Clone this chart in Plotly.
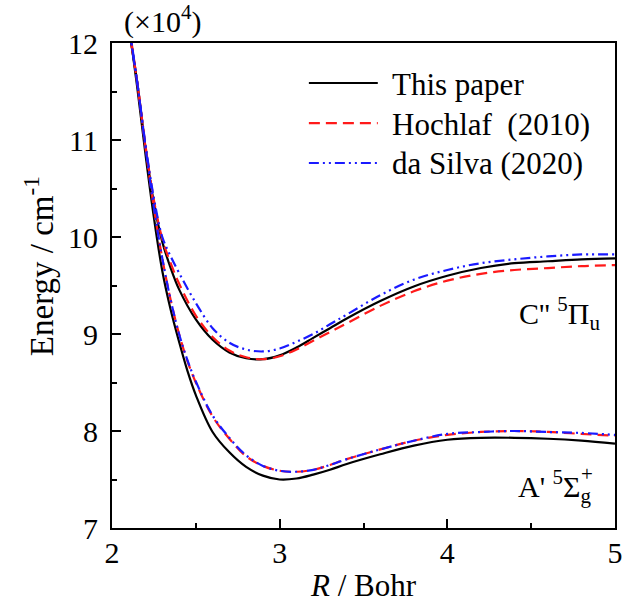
import plotly.graph_objects as go

# ---------------- data (energy in 10^4 cm^-1, R in Bohr) ----------------
R_C = [2.10, 2.15, 2.20, 2.25, 2.30, 2.35, 2.40, 2.50, 2.60, 2.70, 2.80, 2.90, 3.00,
       3.10, 3.20, 3.30, 3.40, 3.60, 3.80, 4.00, 4.20, 4.40, 4.60, 4.80, 5.00]
C_this = [12.15, 11.60, 10.92, 10.35, 9.95, 9.68, 9.46, 9.15, 8.94, 8.81, 8.75, 8.74, 8.78,
          8.86, 8.96, 9.06, 9.16, 9.34, 9.49, 9.60, 9.68, 9.73, 9.75, 9.77, 9.78]
C_hoch = [12.15, 11.60, 10.94, 10.38, 9.98, 9.73, 9.52, 9.19, 8.97, 8.83, 8.76, 8.74, 8.77,
          8.84, 8.93, 9.02, 9.11, 9.29, 9.44, 9.55, 9.62, 9.66, 9.68, 9.70, 9.71]
C_silva = [12.15, 11.60, 10.95, 10.40, 10.00, 9.80, 9.63, 9.32, 9.06, 8.91, 8.84, 8.82, 8.85,
           8.92, 9.00, 9.10, 9.20, 9.40, 9.56, 9.66, 9.73, 9.77, 9.80, 9.82, 9.82]

R_A = [2.10, 2.15, 2.20, 2.25, 2.30, 2.35, 2.40, 2.45, 2.50, 2.60, 2.70, 2.80, 2.90, 3.00,
       3.10, 3.20, 3.30, 3.40, 3.60, 3.80, 4.00, 4.20, 4.40, 4.60, 4.80, 5.00]
A_this = [12.20, 11.55, 10.85, 10.20, 9.65, 9.25, 8.92, 8.62, 8.37, 7.99, 7.78, 7.63, 7.54, 7.50,
          7.51, 7.55, 7.60, 7.66, 7.76, 7.85, 7.91, 7.93, 7.93, 7.92, 7.90, 7.87]
A_hoch = [12.20, 11.60, 10.92, 10.30, 9.78, 9.35, 9.00, 8.72, 8.50, 8.15, 7.92, 7.74, 7.64, 7.59,
          7.58, 7.60, 7.65, 7.71, 7.81, 7.90, 7.96, 7.99, 8.00, 7.99, 7.97, 7.95]
A_silva = [12.20, 11.60, 10.92, 10.30, 9.78, 9.35, 9.00, 8.73, 8.51, 8.16, 7.93, 7.75, 7.64, 7.59,
           7.58, 7.60, 7.65, 7.71, 7.81, 7.90, 7.97, 7.99, 8.00, 7.99, 7.98, 7.96]

series_names = ["This paper", "Hochlaf  (2010)", "da Silva (2020)"]
x_ticks = [2, 3, 4, 5]
y_ticks = [7, 8, 9, 10, 11, 12]
state_labels = ["C'' <sup>5</sup>Π<sub>u</sub>", "A' <sup>5</sup>Σ<sub>g</sub>"]

FONT = "Liberation Serif"
styles = [dict(color="black", width=2.2, dash="solid"),
          dict(color="#ff1a1a", width=2.2, dash="11px,6px"),
          dict(color="#1a1aff", width=2.2, dash="10px,4px,2px,4px,2px,4px")]

fig = go.Figure()
for i, (yc, ya) in enumerate([(C_this, A_this), (C_hoch, A_hoch), (C_silva, A_silva)]):
    fig.add_trace(go.Scatter(x=R_C, y=yc, mode="lines", line=dict(**styles[i], shape="spline"),
                             name=series_names[i], showlegend=False))
    fig.add_trace(go.Scatter(x=R_A, y=ya, mode="lines", line=dict(**styles[i], shape="spline"),
                             name=series_names[i], showlegend=False))

# legend drawn as line samples + text (compact row spacing as in the reference)
leg_rows = [0.9175, 0.835, 0.7526]
for i, yrow in enumerate(leg_rows):
    fig.add_shape(type="line", xref="paper", yref="paper", x0=0.3914, x1=0.5284,
                  y0=yrow, y1=yrow, line=styles[i])
    fig.add_annotation(text=series_names[i], xref="paper", yref="paper", x=0.552, y=yrow,
                       xanchor="left", yanchor="middle", yshift=-1, showarrow=False,
                       font=dict(family=FONT, size=31, color="black"))

axis_common = dict(showline=True, linecolor="black", linewidth=2, mirror=True,
                   ticks="inside", ticklen=9, tickwidth=2, tickcolor="black",
                   showgrid=False, zeroline=False,
                   tickfont=dict(family=FONT, size=30, color="black"),
                   minor=dict(ticks="inside", ticklen=5, tickwidth=2, tickcolor="black", dtick=0.5))

fig.update_xaxes(range=[2, 5], tickvals=x_ticks, ticktext=[str(v) for v in x_ticks],
                 ticklabelstandoff=-3, **axis_common)
fig.update_yaxes(range=[7, 12], tickvals=y_ticks, ticktext=[str(v) for v in y_ticks],
                 ticklabelstandoff=6, **axis_common)

fig.add_annotation(text="<i>R</i> / Bohr", xref="paper", yref="paper", x=0.5, y=-0.1588,
                   xanchor="center", yanchor="bottom", showarrow=False,
                   font=dict(family=FONT, size=31, color="black"))
fig.add_annotation(text="Energy / cm<sup>-1</sup>", xref="paper", yref="paper", x=-0.145, y=0.54,
                   xanchor="center", yanchor="middle", textangle=-90, showarrow=False,
                   font=dict(family=FONT, size=33, color="black"))
fig.add_annotation(text="(×10<sup>4</sup>)", xref="paper", yref="paper", x=0.02, y=1.0,
                   xanchor="left", yanchor="bottom", yshift=2, showarrow=False,
                   font=dict(family=FONT, size=30, color="black"))
fig.add_annotation(text=state_labels[0], x=4.67, y=9.21, showarrow=False,
                   font=dict(family=FONT, size=30, color="black"))
fig.add_annotation(text=state_labels[1], x=4.64, y=7.43, showarrow=False,
                   font=dict(family=FONT, size=30, color="black"))
fig.add_annotation(text="<sup>+</sup>", x=4.64, y=7.43, xshift=32, yshift=12, showarrow=False,
                   font=dict(family=FONT, size=30, color="black"))

fig.update_layout(
    width=631, height=606,
    margin=dict(l=112, r=8, t=43, b=78),
    paper_bgcolor="white", plot_bgcolor="white",
    showlegend=False,
)

fig.write_html("out.html", config={"displayModeBar": False},
               post_script="document.body.style.margin='0px';")
